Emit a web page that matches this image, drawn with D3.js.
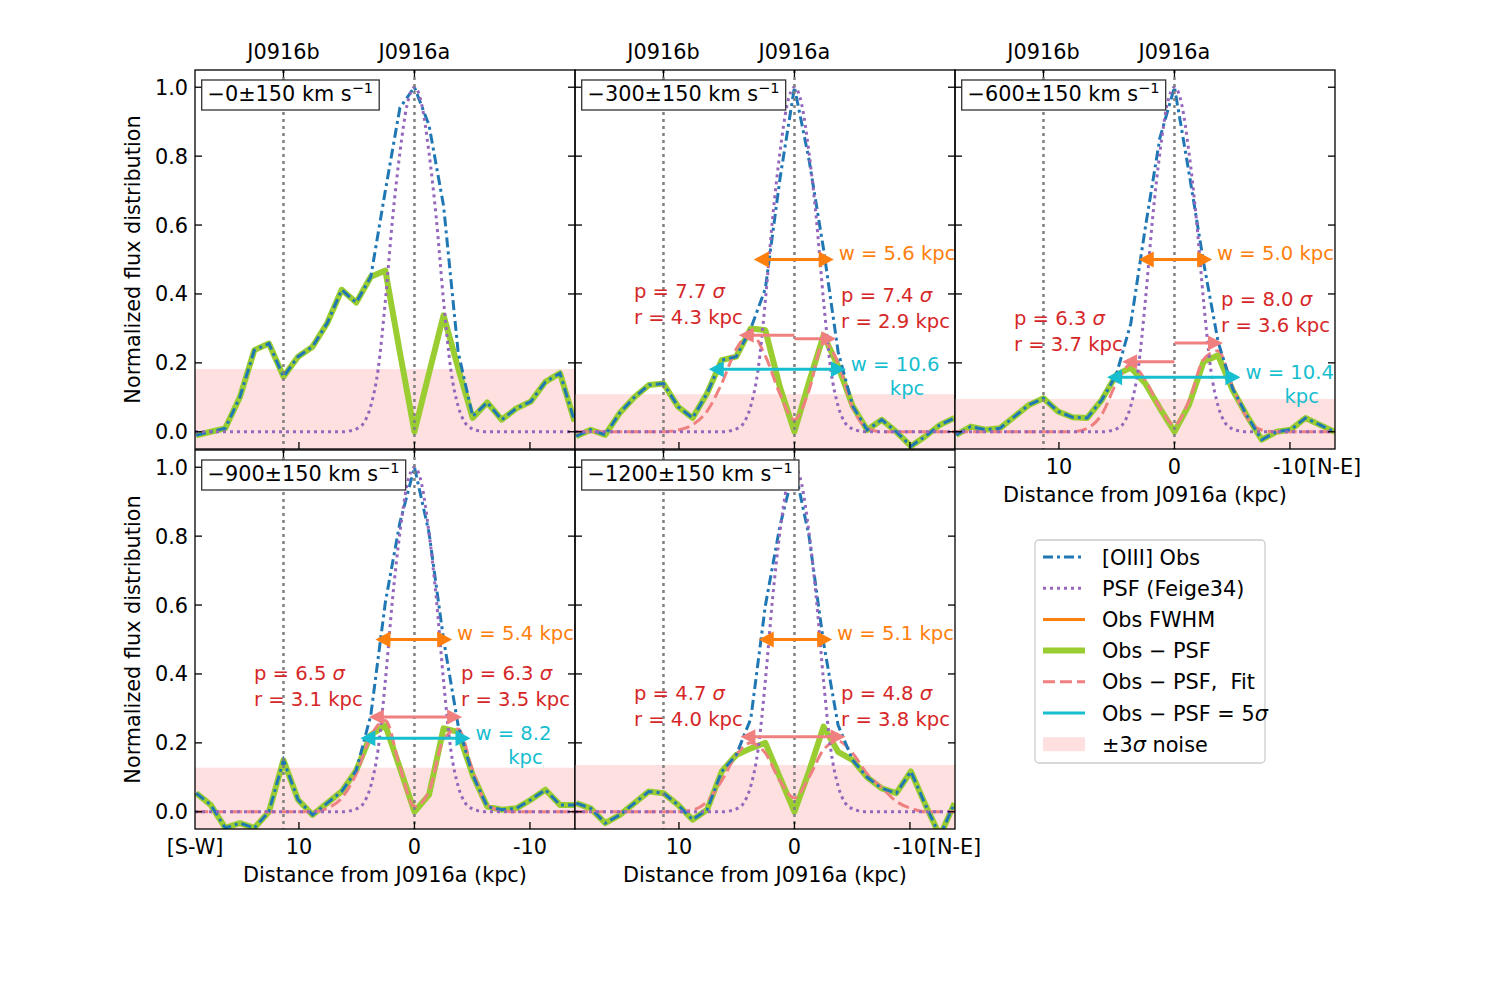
<!DOCTYPE html>
<html lang="en">
<head>
<meta charset="UTF-8">
<title>J0916 [OIII] flux profiles</title>
<script src="https://d3js.org/d3.v7.min.js"></script>
<style>
  body { margin: 0; background: #fff; }
  svg text { font-family: "DejaVu Sans", sans-serif; font-size: 20.8px; white-space: pre; }
  svg text.ann { font-size: 19.6px; }
</style>
</head>
<body>
<svg width="1500" height="1000"></svg>
<script>

// distance from J0916a (kpc) of each profile sample, S-W side positive
const dist = [18.9, 17.64, 16.38, 15.12, 13.86, 12.6, 11.34, 10.08, 8.82, 7.56, 6.3, 5.04, 3.78,
              2.52, 1.26, 0, -1.26, -2.52, -3.78, -5.04, -6.3, -7.56, -8.82, -10.08, -11.34, -12.6, -13.86];

const velocities = ["−0", "−300", "−600", "−900", "−1200"];

// [OIII] observed profiles
const obs0    = [-0.01, 0.0, 0.01, 0.10, 0.237, 0.256, 0.16, 0.218, 0.247, 0.315, 0.412, 0.375, 0.45,
                 0.70, 0.94, 1.0, 0.89, 0.656, 0.232, 0.045, 0.085, 0.035, 0.068, 0.088, 0.145, 0.17, 0.03];
const obs300  = [-0.013, 0.006, -0.009, 0.055, 0.10, 0.136, 0.14, 0.073, 0.04, 0.112, 0.208, 0.218, 0.30,
                 0.415, 0.733, 1.0, 0.79, 0.53, 0.232, 0.075, 0.005, 0.035, 0.0, -0.042, -0.013, 0.02, 0.04];
const obs600  = [-0.009, 0.015, 0.006, 0.01, 0.044, 0.078, 0.097, 0.059, 0.042, 0.04, 0.092, 0.165, 0.314,
                 0.593, 0.853, 1.0, 0.752, 0.492, 0.261, 0.125, 0.045, -0.023, 0.0, 0.006, 0.04, 0.02, 0.0];
const obs900  = [0.054, 0.02, -0.047, -0.033, -0.047, 0.0, 0.15, 0.035, -0.009, 0.025, 0.059, 0.12, 0.28,
                 0.608, 0.839, 1.0, 0.81, 0.50, 0.251, 0.107, 0.015, 0.006, 0.01, 0.035, 0.064, 0.02, 0.02];
const obs1200 = [0.025, 0.01, -0.033, -0.009, 0.025, 0.059, 0.054, 0.02, -0.023, 0.006, 0.117, 0.165, 0.27,
                 0.598, 0.829, 1.0, 0.80, 0.49, 0.251, 0.15, 0.10, 0.068, 0.054, 0.117, 0.02, -0.07, 0.025];

// Obs - PSF residuals
const diff0    = [-0.01, 0.0, 0.01, 0.10, 0.237, 0.256, 0.16, 0.218, 0.247, 0.315, 0.412, 0.375, 0.45,
                  0.468, 0.23, 0.0, 0.17, 0.338, 0.185, 0.04, 0.085, 0.035, 0.068, 0.088, 0.145, 0.17, 0.03];
const diff300  = [-0.013, 0.006, -0.009, 0.055, 0.10, 0.136, 0.14, 0.073, 0.04, 0.112, 0.208, 0.218, 0.30,
                  0.295, 0.13, 0.0, 0.144, 0.28, 0.19, 0.075, 0.005, 0.035, 0.0, -0.042, -0.013, 0.02, 0.04];
const diff600  = [-0.009, 0.015, 0.006, 0.01, 0.044, 0.078, 0.097, 0.059, 0.042, 0.04, 0.092, 0.165, 0.186,
                  0.14, 0.068, 0.0, 0.078, 0.203, 0.222, 0.121, 0.045, -0.023, 0.0, 0.006, 0.04, 0.02, 0.0];
const diff900  = [0.054, 0.02, -0.047, -0.033, -0.047, 0.0, 0.15, 0.035, -0.009, 0.025, 0.059, 0.12, 0.223,
                  0.251, 0.127, 0.0, 0.049, 0.242, 0.232, 0.107, 0.015, 0.006, 0.01, 0.035, 0.064, 0.02, 0.02];
const diff1200 = [0.025, 0.01, -0.033, -0.009, 0.025, 0.059, 0.054, 0.02, -0.023, 0.006, 0.117, 0.165, 0.184,
                  0.2, 0.10, 0.0, 0.117, 0.247, 0.174, 0.15, 0.10, 0.068, 0.054, 0.117, 0.02, -0.07, 0.025];

// double-peak fits to the residuals (none for the first panel)
const fit300  = [0, 0, 0, 0, 0, 0, 0, 0.005, 0.02, 0.06, 0.14, 0.24, 0.285,
                 0.22, 0.11, 0.035, 0.12, 0.26, 0.2, 0.07, 0.01, 0, 0, 0, 0, 0, 0];
const fit600  = [0, 0, 0, 0, 0, 0, 0, 0, 0.0, 0.01, 0.05, 0.14, 0.195,
                 0.15, 0.07, 0.02, 0.09, 0.21, 0.235, 0.13, 0.04, 0.005, 0, 0, 0, 0, 0];
const fit900  = [0, 0, 0, 0, 0, 0, 0, 0, 0.0, 0.01, 0.04, 0.11, 0.22,
                 0.265, 0.13, 0.015, 0.06, 0.21, 0.24, 0.12, 0.02, 0.003, 0, 0, 0, 0, 0];
const fit1200 = [0, 0, 0, 0, 0, 0, 0, 0, 0.005, 0.03, 0.09, 0.165, 0.2,
                 0.17, 0.09, 0.04, 0.1, 0.18, 0.205, 0.17, 0.11, 0.07, 0.03, 0.01, 0, 0, 0];

// PSF (Feige34), sampled at half steps
const psfDist = [19, 6.3, 5.67, 5.04, 4.41, 3.78, 3.15, 2.52, 1.89, 1.26, 0.63, 0,
                 -0.63, -1.26, -1.89, -2.52, -3.15, -3.78, -4.41, -5.04, -5.67, -6.3, -13.9];
const psfFlux = [0, 0, 0.002, 0.008, 0.025, 0.075, 0.18, 0.38, 0.62, 0.81, 0.95, 1.0,
                 0.95, 0.81, 0.62, 0.38, 0.18, 0.075, 0.025, 0.008, 0.002, 0, 0];

// 3 sigma noise level per panel
const noise3 = [0.182, 0.109, 0.095, 0.128, 0.136];

// source positions
const srcNames = ["J0916b", "J0916a"];
const srcDist = [11.34, 0];

// annotations
const fwhmText = [null, "5.6", "5.0", "5.4", "5.1"];
const fwhmEnds = [null, [3.52, -3.4], [3.09, -3.26], [3.38, -3.26], [3.09, -3.26]];
const fwhmLevel = 0.5;
const peakP = [null, ["7.7", "7.4"], ["6.3", "8.0"], ["6.5", "6.3"], ["4.7", "4.8"]];
const peakR = [null, ["4.3", "2.9"], ["3.7", "3.6"], ["3.1", "3.5"], ["4.0", "3.8"]];
const peakTip = [null, [4.82, -3.62], [4.53, -4.2], [3.95, -4.13], [4.68, -4.42]];
const peakLevel = [null, [0.28, 0.27], [0.203, 0.258], [0.275, 0.275], [0.218, 0.218]];
const extentText = [null, "10.6", "10.4", "8.2", null];
const extentEnds = [null, [7.42, -4.45], [5.83, -5.71], [4.68, -4.85], null];

const yTicks = [0, 0.2, 0.4, 0.6, 0.8, 1.0];
const xTicks = [10, 0, -10];

const obsAll = [obs0, obs300, obs600, obs900, obs1200];
const diffAll = [diff0, diff300, diff600, diff900, diff1200];
const fitAll = [null, fit300, fit600, fit900, fit1200];

// colours
const C = {
  obs: "#1f77b4", psf: "#9467bd", fwhm: "#ff7f0e", diff: "#9acd32",
  fit: "#f08080", ext: "#17becf", red: "#d62728", noise: "#fee0e0", src: "#808080"
};

const svg = d3.select("svg");
const W = 380, H = 379;
const colX = [195, 575, 955], rowY = [70, 450];
const layout = [
  { c: 0, r: 0, top: true, yLab: true },
  { c: 1, r: 0, top: true },
  { c: 2, r: 0, top: true, xLab: true, right: "[N-E]" },
  { c: 0, r: 1, yLab: true, xLab: true, left: "[S-W]" },
  { c: 1, r: 1, xLab: true, right: "[N-E]" }
];

const x = d3.scaleLinear().domain([19, -13.9]).range([0, W]);
const y = d3.scaleLinear().domain([-0.05, 1.05]).range([H, 0]);
const sampleLine = d3.line().x((d, i) => x(dist[i])).y(d => y(d));
const psfLine = d3.line().x((d, i) => x(psfDist[i])).y(d => y(d)).curve(d3.curveMonotoneX);
const fitLine = d3.line().x((d, i) => x(dist[i])).y(d => y(d)).curve(d3.curveMonotoneX);

function arrow(g, x1, x2, yy, color, lw, heads, hl, hw) {
  // heads: [atStart, atEnd]
  const dir = Math.sign(x2 - x1);
  const a = heads[0] ? x1 + dir * hl * 0.8 : x1;
  const b = heads[1] ? x2 - dir * hl * 0.8 : x2;
  g.append("line").attr("x1", a).attr("x2", b).attr("y1", yy).attr("y2", yy)
    .attr("stroke", color).attr("stroke-width", lw);
  const head = (tip, d) => g.append("path")
    .attr("d", `M${tip},${yy} L${tip - d * hl},${yy - hw} L${tip - d * hl},${yy + hw} Z`)
    .attr("fill", color);
  if (heads[0]) head(x1, -dir);
  if (heads[1]) head(x2, dir);
}

layout.forEach((L, i) => {
  const x0 = colX[L.c], y0 = rowY[L.r];
  const g = svg.append("g").attr("transform", `translate(${x0},${y0})`);
  const clipId = "clip" + i;
  g.append("clipPath").attr("id", clipId).append("rect").attr("width", W).attr("height", H);
  const plot = g.append("g").attr("clip-path", `url(#${clipId})`);

  // noise band
  plot.append("rect").attr("x", 0).attr("width", W)
    .attr("y", y(noise3[i])).attr("height", y(-noise3[i]) - y(noise3[i]))
    .attr("fill", C.noise);

  plot.append("path").attr("d", sampleLine(diffAll[i])).attr("fill", "none")
    .attr("stroke", C.diff).attr("stroke-width", 6).attr("stroke-linejoin", "round");
  if (fitAll[i]) {
    plot.append("path").attr("d", fitLine(fitAll[i])).attr("fill", "none")
      .attr("stroke", C.fit).attr("stroke-width", 3).attr("stroke-dasharray", "12,5");
  }
  plot.append("path").attr("d", sampleLine(obsAll[i])).attr("fill", "none")
    .attr("stroke", C.obs).attr("stroke-width", 3).attr("stroke-dasharray", "10,4,3,4");
  plot.append("path").attr("d", psfLine(psfFlux)).attr("fill", "none")
    .attr("stroke", C.psf).attr("stroke-width", 3).attr("stroke-dasharray", "3,4");

  srcDist.forEach(d => {
    plot.append("line").attr("x1", x(d)).attr("x2", x(d)).attr("y1", 0).attr("y2", H)
      .attr("stroke", C.src).attr("stroke-width", 2.5).attr("stroke-dasharray", "3,4");
  });

  // arrows and labels
  if (fwhmText[i]) {
    const [l, r] = fwhmEnds[i];
    arrow(plot, x(l), x(r), y(fwhmLevel), C.fwhm, 3, [true, true], 15, 8);
    g.append("text").attr("class", "ann").attr("x", x(r) + 5).attr("y", y(fwhmLevel))
      .attr("fill", C.fwhm).text(`w = ${fwhmText[i]} kpc`);

    const [tl, tr] = peakTip[i];
    const [ll, lr] = peakLevel[i];
    arrow(plot, x(0), x(tl), y(ll), C.fit, 3, [false, true], 15, 7.5);
    arrow(plot, x(0), x(tr), y(lr), C.fit, 3, [false, true], 15, 7.5);
    [[13.9, ll, 0], [-4.04, lr, 1]].forEach(([tx, lev, s]) => {
      const t1 = g.append("text").attr("class", "ann").attr("x", x(tx)).attr("y", y(lev) - 37).attr("fill", C.red);
      t1.append("tspan").text(`p = ${peakP[i][s]} `);
      t1.append("tspan").attr("font-style", "italic").text("σ");
      g.append("text").attr("class", "ann").attr("x", x(tx)).attr("y", y(lev) - 11).attr("fill", C.red)
        .text(`r = ${peakR[i][s]} kpc`);
    });
  }
  if (extentText[i]) {
    const [l, r] = extentEnds[i];
    const lev = noise3[i] * 5 / 3;
    arrow(plot, x(l), x(r), y(lev), C.ext, 3, [true, true], 15, 8);
    const t = g.append("text").attr("class", "ann").attr("x", x(r) + 5).attr("y", y(lev) + 2)
      .attr("fill", C.ext).text(`w = ${extentText[i]}`);
    const cx = x(r) + 5 + t.node().getComputedTextLength() / 2 + 12;
    g.append("text").attr("class", "ann").attr("x", cx).attr("y", y(lev) + 26).attr("text-anchor", "middle")
      .attr("fill", C.ext).text("kpc");
  }

  // frame and inward ticks
  g.append("rect").attr("width", W).attr("height", H).attr("fill", "none")
    .attr("stroke", "#000").attr("stroke-width", 1.3);
  yTicks.forEach(v => {
    g.append("line").attr("x1", 0).attr("x2", 7).attr("y1", y(v)).attr("y2", y(v)).attr("stroke", "#000").attr("stroke-width", 1.3);
    g.append("line").attr("x1", W - 7).attr("x2", W).attr("y1", y(v)).attr("y2", y(v)).attr("stroke", "#000").attr("stroke-width", 1.3);
    if (L.yLab) {
      g.append("text").attr("x", -7).attr("y", y(v) + 7.5).attr("text-anchor", "end").text(v.toFixed(1));
    }
  });
  xTicks.forEach(v => {
    g.append("line").attr("x1", x(v)).attr("x2", x(v)).attr("y1", H - 7).attr("y2", H).attr("stroke", "#000").attr("stroke-width", 1.3);
    if (L.xLab) {
      g.append("text").attr("x", x(v)).attr("y", H + 24.5).attr("text-anchor", "middle").text(String(v));
    }
  });
  srcDist.forEach((d, j) => {
    g.append("line").attr("x1", x(d)).attr("x2", x(d)).attr("y1", 0).attr("y2", 7).attr("stroke", "#000").attr("stroke-width", 1.3);
    if (L.top) {
      g.append("text").attr("x", x(d)).attr("y", -11).attr("text-anchor", "middle").text(srcNames[j]);
    }
  });
  if (L.left) g.append("text").attr("x", 0).attr("y", H + 24.5).attr("text-anchor", "middle").text(L.left);
  if (L.right) g.append("text").attr("x", W).attr("y", H + 24.5).attr("text-anchor", "middle").text(L.right);
  if (L.xLab) {
    g.append("text").attr("x", W / 2).attr("y", H + 53).attr("text-anchor", "middle")
      .text("Distance from J0916a (kpc)");
  }
  if (L.yLab) {
    g.append("text").attr("transform", `translate(${140 - x0},${H / 2}) rotate(-90)`)
      .attr("text-anchor", "middle").text("Normalized flux distribution");
  }

  // velocity bin label
  const box = g.append("rect").attr("x", 6.7).attr("y", 10).attr("height", 30)
    .attr("fill", "#fff").attr("stroke", "#333").attr("stroke-width", 1.3);
  const vt = g.append("text").attr("x", 12.5).attr("y", 30.7);
  vt.append("tspan").text(`${velocities[i]}±150 km s`);
  vt.append("tspan").attr("dy", -8).attr("font-size", "14.5px").text("−1");
  box.attr("width", vt.node().getBBox().width + 12);
});

// legend
const legendItems = [
  { label: ["[OIII] Obs"], kind: "line", color: C.obs, w: 3, dash: "10,4,3,4" },
  { label: ["PSF (Feige34)"], kind: "line", color: C.psf, w: 3, dash: "3,4" },
  { label: ["Obs FWHM"], kind: "line", color: C.fwhm, w: 3 },
  { label: ["Obs − PSF"], kind: "line", color: C.diff, w: 6 },
  { label: ["Obs − PSF,  Fit"], kind: "line", color: C.fit, w: 3, dash: "12,5" },
  { label: ["Obs − PSF = 5", "σ"], kind: "line", color: C.ext, w: 3 },
  { label: ["±3", "σ", " noise"], kind: "patch", color: C.noise }
];
const lg = svg.append("g");
lg.append("rect").attr("x", 1035).attr("y", 540).attr("width", 230).attr("height", 223)
  .attr("rx", 4).attr("fill", "#fff").attr("stroke", "#ccc").attr("stroke-width", 1.3);
legendItems.forEach((it, j) => {
  const cy = 557 + j * 31.2;
  if (it.kind === "line") {
    const ln = lg.append("line").attr("x1", 1043).attr("x2", 1085).attr("y1", cy).attr("y2", cy)
      .attr("stroke", it.color).attr("stroke-width", it.w);
    if (it.dash) ln.attr("stroke-dasharray", it.dash);
  } else {
    lg.append("rect").attr("x", 1043).attr("y", cy - 7).attr("width", 42).attr("height", 14).attr("fill", it.color);
  }
  const t = lg.append("text").attr("x", 1102).attr("y", cy + 7.5);
  it.label.forEach(s => {
    const sp = t.append("tspan").text(s);
    if (s === "σ") sp.attr("font-style", "italic");
  });
});

</script>
</body>
</html>
